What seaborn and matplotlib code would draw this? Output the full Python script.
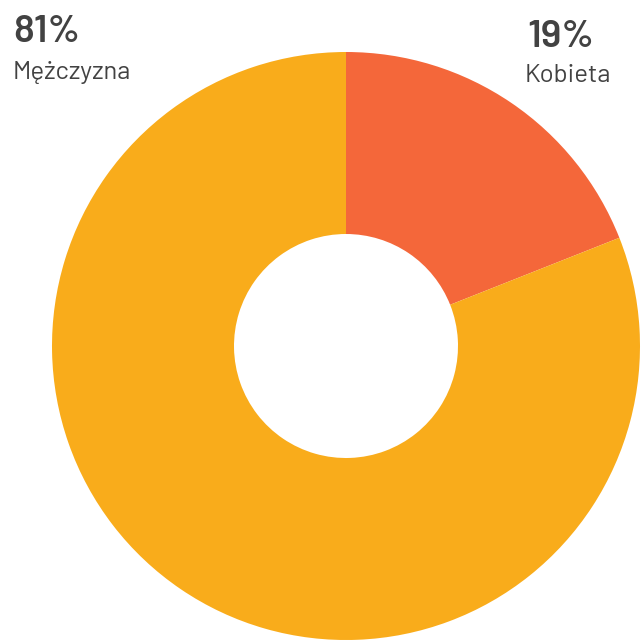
import matplotlib
matplotlib.use("Agg")
import matplotlib.pyplot as plt
import seaborn as sns

# Data
labels = ["Kobieta", "Mężczyzna"]
values = [19, 81]
colors = ["#F4673A", "#F9AC1B"]

sns.set_theme(style="white")
plt.rcParams["font.family"] = ["Barlow", "DejaVu Sans"]

fig = plt.figure(figsize=(6.41, 6.40), dpi=100)
ax = fig.add_axes([0, 0, 1, 1])

# Donut
ax.pie(
    values,
    colors=colors,
    startangle=90,
    counterclock=False,
    center=(346, 294),
    radius=294,
    wedgeprops=dict(width=182, linewidth=0),
    frame=True,
)
ax.set_xlim(0, 641)
ax.set_ylim(0, 640)
ax.set_aspect("equal")
ax.axis("off")

text_color = "#424242"
# Labels: percent (bold) + name
ax.text(13, 598, f"{values[1]}%", fontsize=28, fontweight="semibold",
        color=text_color, ha="left", va="baseline")
ax.text(13, 561, labels[1], fontsize=18.5, color=text_color,
        ha="left", va="baseline")
ax.text(527, 593, f"{values[0]}%", fontsize=28, fontweight="semibold",
        color=text_color, ha="left", va="baseline")
ax.text(525, 558, labels[0], fontsize=18.5, color=text_color,
        ha="left", va="baseline")

plt.savefig("out.png", dpi=100)
